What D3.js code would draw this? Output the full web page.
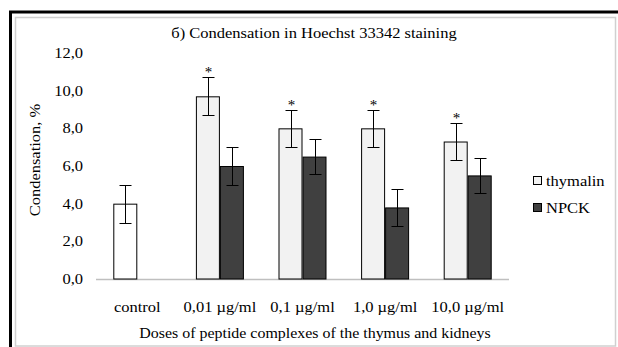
<!DOCTYPE html>
<html>
<head>
<meta charset="utf-8">
<script src="https://cdn.jsdelivr.net/npm/d3@7"></script>
<style>
  body { margin: 0; background: #fff; }
  svg text { font-family: "Liberation Serif", "DejaVu Serif", serif; fill: #000; }
</style>
</head>
<body>
<svg id="svg" width="618" height="347"></svg>
<script>
// Data
var categories = ["control", "0,01 µg/ml", "0,1 µg/ml", "1,0 µg/ml", "10,0 µg/ml"]
var seriesNames = ["thymalin", "NPCK"]
var controlValue = [4.0]
var controlError = [1.0]
var thymalinValues = [null, 9.7, 8.0, 8.0, 7.3]
var thymalinErrors = [null, 1.0, 1.0, 1.0, 1.0]
var npckValues = [null, 6.0, 6.5, 3.8, 5.5]
var npckErrors = [null, 1.0, 0.95, 1.0, 0.95]
var significant = [false, true, true, true, true]
var yTicks = [0, 2, 4, 6, 8, 10, 12]

var _TITLE = "б) Condensation in Hoechst 33342 staining"
var _Y_TITLE = "Condensation, %"
var _X_TITLE = "Doses of peptide complexes of the thymus and kidneys"
var _FONT = "Liberation Serif"

var colors = { control: "#ffffff", thymalin: "#f2f2f2", NPCK: "#404040" }
var SX = 1.1 // the picture is a bit wider than the font

var svg = d3.select("#svg")

// outer frame
svg.append("path").attr("d", "M10.5,347V12H618").attr("fill", "none").attr("stroke", "#000").attr("stroke-width", 3)
svg.append("rect").attr("x", 15.5).attr("y", 17.5).attr("width", 600).attr("height", 328.5)
  .attr("fill", "none").attr("stroke", "#d0d0d0").attr("stroke-width", 1.5)

function stretchedText(g, x, y, str, size, anchor, rotate) {
  let t = g.append("text")
    .attr("transform", "translate(" + x + "," + y + ")" + (rotate ? "rotate(-90)" : "") + "scale(" + SX + ",1)")
    .attr("font-family", _FONT)
    .attr("font-size", size)
    .attr("text-anchor", anchor || "middle")
    .text(str)
  return t
}

let x = d3.scaleBand().domain(categories).range([96, 509])
let y = d3.scaleLinear().domain([0, 12]).range([279, 53])
let sub = d3.scaleBand().domain(seriesNames).range([0, 48])
let barOffset = (x.bandwidth() - 48) / 2

// title
stretchedText(svg, 314, 38, _TITLE, 15)

// y tick labels
yTicks.forEach(t => {
  stretchedText(svg, 83, y(t) + 5, d3.format(".1f")(t).replace(".", ","), 15, "end")
})

// axis line
svg.append("line").attr("x1", 96).attr("x2", 509).attr("y1", y(0) + 0.5).attr("y2", y(0) + 0.5)
  .attr("stroke", "#bfbfbf").attr("stroke-width", 1.5)

// build bar rows
let bars = []
bars.push({ cat: categories[0], s: "thymalin", fill: colors.control, v: controlValue[0], e: controlError[0] })
for (let i = 1; i < categories.length; i++) {
  bars.push({ cat: categories[i], s: "thymalin", fill: colors.thymalin, v: thymalinValues[i], e: thymalinErrors[i], star: significant[i] })
  bars.push({ cat: categories[i], s: "NPCK", fill: colors.NPCK, v: npckValues[i], e: npckErrors[i] })
}

let gBars = svg.append("g")
gBars.selectAll("rect").data(bars).enter().append("rect")
  .attr("x", d => x(d.cat) + barOffset + sub(d.s) + 0.5)
  .attr("y", d => y(d.v) + 0.5)
  .attr("width", sub.bandwidth() - 1)
  .attr("height", d => y(0) - y(d.v) - 0.5)
  .attr("fill", d => d.fill)
  .attr("stroke", "#000").attr("stroke-width", 1)

// error bars
let gErr = svg.append("g").attr("stroke", "#000").attr("stroke-width", 1)
bars.forEach(d => {
  let cx = Math.round(x(d.cat) + barOffset + sub(d.s) + sub.bandwidth() / 2) + 0.5
  let top = Math.round(y(d.v + d.e)) + 0.5, bot = Math.round(y(d.v - d.e)) + 0.5
  gErr.append("line").attr("x1", cx).attr("x2", cx).attr("y1", top).attr("y2", bot)
  gErr.append("line").attr("x1", cx - 6).attr("x2", cx + 6).attr("y1", top).attr("y2", top)
  gErr.append("line").attr("x1", cx - 6).attr("x2", cx + 6).attr("y1", bot).attr("y2", bot)
  if (d.star) {
    svg.append("text").attr("x", cx).attr("y", top - 1).attr("text-anchor", "middle")
      .attr("font-family", _FONT).attr("font-size", 15).text("*")
  }
})

// x tick labels
categories.forEach(c => {
  stretchedText(svg, x(c) + x.bandwidth() / 2, 312, c, 15)
})

// axis titles
stretchedText(svg, 315, 338, _X_TITLE, 14.5)
stretchedText(svg, 40, 160, _Y_TITLE, 15, "middle", true)

// legend
let legend = svg.selectAll(".legend").data(seriesNames).enter().append("g")
  .attr("class", "legend")
  .attr("transform", (d, i) => "translate(533," + (176 + i * 27) + ")")
legend.append("rect").attr("x", 0.5).attr("y", 0.5).attr("width", 8).attr("height", 8)
  .attr("fill", d => colors[d]).attr("stroke", "#000").attr("stroke-width", 1)
legend.each(function (d) {
  stretchedText(d3.select(this), 13, 9.5, d, 15, "start")
})
</script>
</body>
</html>
